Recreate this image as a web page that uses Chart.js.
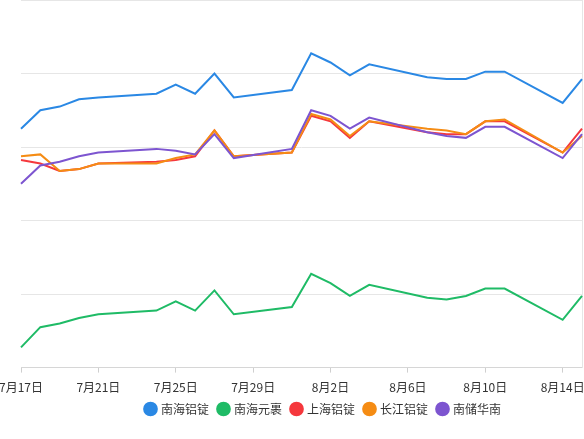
<!DOCTYPE html>
<html>
<head>
<meta charset="utf-8">
<script src="https://cdn.jsdelivr.net/npm/chart.js@4/dist/chart.umd.min.js"></script>
<style>
  html, body { margin: 0; padding: 0; background: #fff; overflow: hidden; }
  #frame { position: relative; width: 584px; height: 439px; overflow: hidden; }
  #wrap { position: absolute; left: -30px; top: 0; width: 704px; height: 439px; }
</style>
</head>
<body>
<div id="frame"><div id="wrap"><canvas id="priceChart" width="704" height="439"></canvas></div></div>
<script>
  // dates (weekends have no quote)
  const categories = [
    '7月17日', '7月18日', '7月19日', '7月20日', '7月21日', '7月22日', '7月23日', '7月24日',
    '7月25日', '7月26日', '7月27日', '7月28日', '7月29日', '7月30日', '7月31日', '8月1日',
    '8月2日', '8月3日', '8月4日', '8月5日', '8月6日', '8月7日', '8月8日', '8月9日',
    '8月10日', '8月11日', '8月12日', '8月13日', '8月14日', '8月15日'
  ];

  const seriesNames = ['南海铝锭', '南海元裹', '上海铝锭', '长江铝锭', '南储华南'];

  const nanhai   = [18450, 18500, 18510, 18530, 18535, null, null, 18545, 18570, 18545, 18600, 18535, null, null, 18555, 18655, 18630, 18595, 18625, null, null, 18590, 18585, 18585, 18605, 18605, null, null, 18520, 18585];
  const nanhai2  = [17855, 17910, 17920, 17935, 17945, null, null, 17955, 17980, 17955, 18010, 17945, null, null, 17965, 18055, 18030, 17995, 18025, null, null, 17990, 17985, 17995, 18015, 18015, null, null, 17930, 17995];
  const shanghai = [18365, 18355, 18335, 18340, 18355, null, null, 18360, 18365, 18375, 18445, 18375, null, null, 18385, 18485, 18470, 18425, 18470, null, null, 18440, 18435, 18435, 18470, 18470, null, null, 18385, 18450];
  const changjiang = [18375, 18380, 18335, 18340, 18355, null, null, 18355, 18370, 18380, 18445, 18375, null, null, 18385, 18490, 18475, 18430, 18470, null, null, 18450, 18445, 18435, 18470, 18475, null, null, 18385, 18430];
  const nanchu   = [18300, 18350, 18360, 18375, 18385, null, null, 18395, 18390, 18380, 18435, 18370, null, null, 18395, 18500, 18485, 18450, 18480, null, null, 18440, 18430, 18425, 18455, 18455, null, null, 18370, 18435];

  const yMin = 17800;
  const yMax = 18800;
  const yStep = 200;

  const colors = ['#2a88e4', '#1fbb66', '#f5383d', '#f58c14', '#7d55d0'];
  const values = [nanhai, nanhai2, shanghai, changjiang, nanchu];

  const font = "'Noto Sans CJK SC', 'Noto Sans', sans-serif";

  const datasets = values.map(function (d, i) {
    return {
      label: seriesNames[i],
      data: d,
      borderColor: colors[i],
      backgroundColor: colors[i],
      borderWidth: 2,
      pointRadius: 0,
      tension: 0,
      spanGaps: true,
      order: values.length - i   // later series on top
    };
  });

  // the original legend sits a bit right of the plot centre and tucks up under the labels
  const legendNudge = {
    id: 'legendNudge',
    afterLayout(chart) {
      const lg = chart.legend;
      if (!lg) return;
      lg.left += 22; lg.right += 22;
      lg.top -= 10; lg.bottom -= 10;
    }
  };

  const ctx = document.getElementById('priceChart').getContext('2d');
  new Chart(ctx, {
    type: 'line',
    data: { labels: categories, datasets: datasets },
    plugins: [legendNudge],
    options: {
      responsive: false,
      animation: false,
      devicePixelRatio: 1,
      layout: { padding: { left: 51, right: 92, top: 0, bottom: 4 } },
      scales: {
        x: {
          grid: {
            drawOnChartArea: false,
            drawTicks: true,
            tickLength: 5,
            color: (c) => (c.index % 4 === 0 ? '#cfcfcf' : 'rgba(0,0,0,0)')
          },
          border: { display: true, color: '#d6d6d6', width: 1 },
          ticks: {
            autoSkip: false,
            maxRotation: 0,
            padding: 8,
            color: '#333',
            font: { family: font, size: 12 },
            callback: function (v, i) { return i % 4 === 0 ? categories[i] : ''; }
          }
        },
        y: {
          position: 'right',
          min: yMin,
          max: yMax,
          grid: { color: '#e6e6e6', drawTicks: false },
          border: { display: true, color: '#e6e6e6' },
          ticks: { display: false, stepSize: yStep }
        }
      },
      plugins: {
        legend: {
          position: 'bottom',
          labels: {
            usePointStyle: true,
            pointStyle: 'circle',
            boxWidth: 9,
            boxHeight: 9,
            padding: 10,
            color: '#333',
            font: { family: font, size: 12 },
            sort: (a, b) => a.datasetIndex - b.datasetIndex
          }
        },
        tooltip: { enabled: false }
      }
    }
  });
</script>
</body>
</html>
